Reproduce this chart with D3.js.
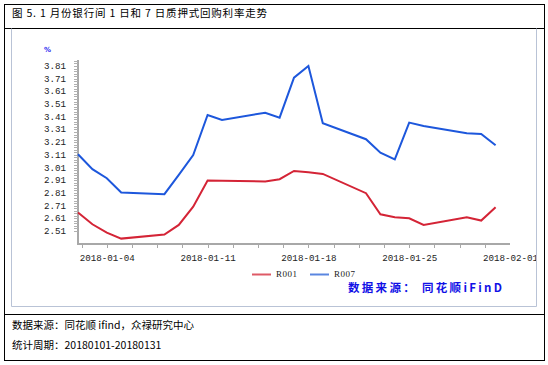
<!DOCTYPE html>
<meta charset="utf-8">
<head>
  <title>1月份银行间质押式回购利率</title>
</head>
<style>
  body { margin: 0; background: #fff; }
  .cjk { font-family: "Noto Sans CJK SC", sans-serif; }
  .tick text, .ylab { font-family: "Liberation Mono", monospace; font-size: 9.2px; fill: #222; }
</style>
<body>
<svg id="chart" width="548" height="365"></svg>
<script src="https://cdnjs.cloudflare.com/ajax/libs/d3/7.8.5/d3.min.js"></script>
<script>
// trading days, Jan 2018
var dates = ["2018-01-02","2018-01-03","2018-01-04","2018-01-05","2018-01-08","2018-01-09",
  "2018-01-10","2018-01-11","2018-01-12","2018-01-15","2018-01-16","2018-01-17","2018-01-18",
  "2018-01-19","2018-01-22","2018-01-23","2018-01-24","2018-01-25","2018-01-26","2018-01-29",
  "2018-01-30","2018-01-31"];
var r001 = [2.655, 2.563, 2.497, 2.450, 2.482, 2.558, 2.702, 2.907, 2.905, 2.900, 2.918,
  2.983, 2.973, 2.960, 2.808, 2.642, 2.618, 2.610, 2.558, 2.618, 2.592, 2.697];
var r007 = [3.115, 2.997, 2.926, 2.813, 2.800, 2.952, 3.109, 3.424, 3.385, 3.442, 3.403,
  3.718, 3.810, 3.359, 3.233, 3.127, 3.075, 3.364, 3.338, 3.280, 3.275, 3.186];
var yTicks = [2.51, 2.61, 2.71, 2.81, 2.91, 3.01, 3.11, 3.21, 3.31, 3.41, 3.51, 3.61, 3.71, 3.81];
var xTicks = ["2018-01-04", "2018-01-11", "2018-01-18", "2018-01-25", "2018-02-01"];
var seriesNames = ["R001", "R007"];
var colors = ["#d42436", "#1d57dc"];
var legendColors = ["#de5a66", "#5a86e0"];

var parse = d3.timeParse("%Y-%m-%d");
var svg = d3.select("#chart");

svg.append("defs").append("clipPath").attr("id", "panel")
  .append("rect").attr("x", 12).attr("y", 29).attr("width", 524).attr("height", 277);

// frame
svg.append("rect").attr("x", 4.5).attr("y", 4.5).attr("width", 540).attr("height", 356)
  .attr("fill", "none").attr("stroke", "#000");
svg.append("line").attr("x1", 4.5).attr("x2", 544.5).attr("y1", 28.5).attr("y2", 28.5).attr("stroke", "#000");
svg.append("line").attr("x1", 4.5).attr("x2", 544.5).attr("y1", 314.5).attr("y2", 314.5).attr("stroke", "#000");
svg.append("path").attr("d", "M11.5,28.5V306.5H536.5V28.5")
  .attr("fill", "none").attr("stroke", "#b9c3d6");

svg.append("text").attr("class", "cjk").attr("x", 12).attr("y", 17)
  .attr("font-size", "10.5px").attr("textLength", 255).attr("lengthAdjust", "spacing")
  .text("图 5. 1 月份银行间 1 日和 7 日质押式回购利率走势");
svg.append("text").attr("class", "cjk").attr("x", 12).attr("y", 329).attr("font-size", "10.5px")
  .text("数据来源：同花顺 ifind，众禄研究中心");
svg.append("text").attr("class", "cjk").attr("x", 12).attr("y", 349).attr("font-size", "10.5px")
  .text("统计周期：20180101-20180131");

var x = d3.scaleTime().domain([parse("2018-01-02"), parse("2018-02-01")]).range([78, 510]);
var y = d3.scaleLinear().domain([2.51, 3.81]).range([231, 66]);
var yBottom = 244, yTop = 60;

// y axis
var ga = svg.append("g");
ga.append("line").attr("x1", 78).attr("x2", 78).attr("y1", yTop).attr("y2", yBottom)
  .attr("stroke", "#a8a8a8").attr("stroke-width", 2);
d3.range(0, 68).forEach(function(i) {
  var v = 3.85 - i * 0.02;
  var py = y(v);
  if (py > yBottom - 1) return;
  ga.append("line").attr("x1", 74).attr("x2", 78).attr("y1", Math.round(py) + 0.5).attr("y2", Math.round(py) + 0.5)
    .attr("stroke", "#b0b0b0");
});
ga.selectAll(".ylab").data(yTicks).enter().append("text").attr("class", "ylab")
  .attr("x", 66).attr("y", function(d) { return y(d) + 3; }).attr("text-anchor", "end")
  .text(function(d) { return d.toFixed(2); });
svg.append("text").attr("x", 44).attr("y", 52).attr("font-family", "DejaVu Sans")
  .attr("font-size", "7px").attr("font-weight", "bold").attr("fill", "#2a2af0").text("%");

// x axis
svg.append("line").attr("x1", 77).attr("x2", 510).attr("y1", yBottom).attr("y2", yBottom)
  .attr("stroke", "#a8a8a8").attr("stroke-width", 2);
var minor = d3.range(0, 17).map(function(i) {
  return new Date(parse("2018-01-04").getTime() + (i - 1) * 1.75 * 864e5);
}).filter(function(d) { return x(d) >= 78 && x(d) <= 511; });
svg.selectAll(".mtick").data(minor).enter().append("line")
  .attr("x1", function(d) { return Math.round(x(d)) + 0.5; })
  .attr("x2", function(d) { return Math.round(x(d)) + 0.5; })
  .attr("y1", yBottom).attr("y2", yBottom + 4).attr("stroke", "#a8a8a8");
var xAxis = d3.axisBottom(x).tickValues(xTicks.map(parse)).tickSize(0).tickPadding(10)
  .tickFormat(d3.timeFormat("%Y-%m-%d"));
var gx = svg.append("g").attr("clip-path", "url(#panel)")
  .append("g").attr("transform", "translate(0," + yBottom + ")").call(xAxis);
gx.select(".domain").remove();

// lines
var line = d3.line().x(function(d) { return x(d[0]); }).y(function(d) { return y(d[1]); });
[r001, r007].forEach(function(s, i) {
  svg.append("path").datum(dates.map(function(d, j) { return [parse(d), s[j]]; }))
    .attr("d", line).attr("fill", "none").attr("stroke", colors[i]).attr("stroke-width", 2);
});

// legend
var lg = svg.selectAll(".lg").data(seriesNames).enter().append("g")
  .attr("transform", function(d, i) { return "translate(" + (252 + i * 58) + ",274)"; });
lg.append("line").attr("x1", 0).attr("x2", 19).attr("y1", 0.5).attr("y2", 0.5)
  .attr("stroke", function(d, i) { return legendColors[i]; }).attr("stroke-width", 2);
lg.append("text").attr("x", 24).attr("y", 3).attr("font-family", "Liberation Serif")
  .attr("font-size", "9px").attr("textLength", 21).attr("fill", "#222").text(function(d) { return d; });

svg.append("text").attr("class", "cjk").attr("x", 348).attr("y", 292)
  .attr("font-size", "11.5px").attr("font-weight", "bold").attr("fill", "#1010e6")
  .attr("textLength", 154).attr("lengthAdjust", "spacing")
  .text("数据来源： 同花顺iFinD");
</script>
</body>
</html>
